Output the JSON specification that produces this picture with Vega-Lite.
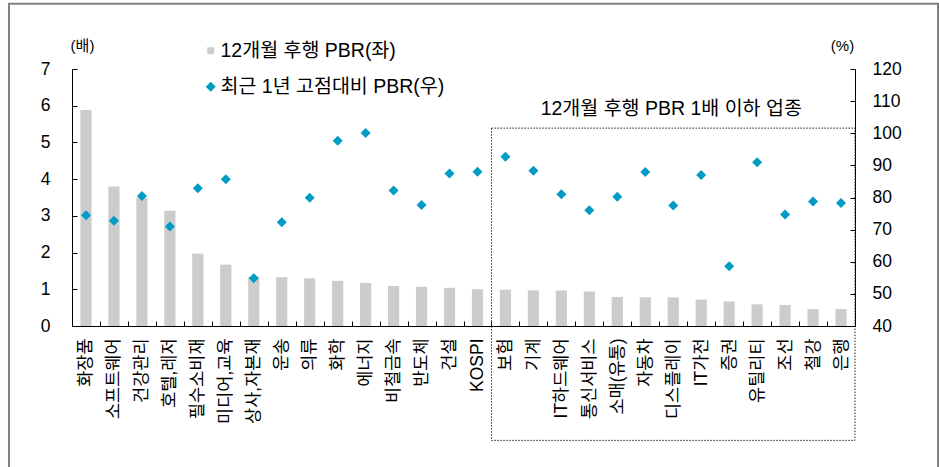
{
  "$schema": "https://vega.github.io/schema/vega-lite/v6.json",
  "width": 783,
  "height": 257,
  "autosize": {"type": "none"},
  "padding": {"left": 72, "top": 69, "right": 84, "bottom": 141},
  "background": "white",
  "config": {
    "view": {"stroke": null},
    "font": "Liberation Sans, Noto Sans CJK KR",
    "axis": {"domainColor": "black", "tickColor": "black", "labelColor": "black", "titleColor": "black", "grid": false, "titleFontWeight": "normal", "labelOverlap": false}
  },
  "datasets": {
    "main": [
      {"cat": "화장품", "pbr": 5.88, "peak": 74.5},
      {"cat": "소프트웨어", "pbr": 3.80, "peak": 72.8},
      {"cat": "건강관리", "pbr": 3.49, "peak": 80.5},
      {"cat": "호텔,레저", "pbr": 3.14, "peak": 71.0},
      {"cat": "필수소비재", "pbr": 1.97, "peak": 82.9},
      {"cat": "미디어,교육", "pbr": 1.67, "peak": 85.7},
      {"cat": "상사,자본재", "pbr": 1.34, "peak": 54.9},
      {"cat": "운송", "pbr": 1.33, "peak": 72.3},
      {"cat": "의류", "pbr": 1.30, "peak": 79.9},
      {"cat": "화학", "pbr": 1.23, "peak": 97.7},
      {"cat": "에너지", "pbr": 1.17, "peak": 100.1},
      {"cat": "비철금속", "pbr": 1.09, "peak": 82.2},
      {"cat": "반도체", "pbr": 1.07, "peak": 77.7},
      {"cat": "건설", "pbr": 1.04, "peak": 87.5},
      {"cat": "KOSPI", "pbr": 1.00, "peak": 88.0},
      {"cat": "보험", "pbr": 0.99, "peak": 92.7},
      {"cat": "기계", "pbr": 0.97, "peak": 88.3},
      {"cat": "IT하드웨어", "pbr": 0.97, "peak": 81.0},
      {"cat": "통신서비스", "pbr": 0.94, "peak": 76.0},
      {"cat": "소매(유통)", "pbr": 0.79, "peak": 80.2},
      {"cat": "자동차", "pbr": 0.78, "peak": 87.9},
      {"cat": "디스플레이", "pbr": 0.78, "peak": 77.5},
      {"cat": "IT가전", "pbr": 0.72, "peak": 87.0},
      {"cat": "증권", "pbr": 0.67, "peak": 58.6},
      {"cat": "유틸리티", "pbr": 0.59, "peak": 91.0},
      {"cat": "조선", "pbr": 0.57, "peak": 74.7},
      {"cat": "철강", "pbr": 0.46, "peak": 78.75},
      {"cat": "은행", "pbr": 0.46, "peak": 78.3}
    ]
  },
  "layer": [
    {
      "layer": [
        {
          "data": {"name": "main"},
          "mark": {"type": "bar", "width": {"band": 0.4}},
          "encoding": {
            "x": {
              "field": "cat", "type": "nominal", "sort": null,
              "scale": {"domain": ["화장품","소프트웨어","건강관리","호텔,레저","필수소비재","미디어,교육","상사,자본재","운송","의류","화학","에너지","비철금속","반도체","건설","KOSPI","보험","기계","IT하드웨어","통신서비스","소매(유통)","자동차","디스플레이","IT가전","증권","유틸리티","조선","철강","은행"], "paddingInner": 0, "paddingOuter": 0},
              "axis": {"title": null, "labelAngle": -90, "labelFontSize": 17.5, "tickBand": "extent", "tickSize": -5, "labelPadding": 17, "labelLimit": 0}
            },
            "y": {
              "field": "pbr", "type": "quantitative",
              "scale": {"domain": [0, 7], "nice": false},
              "axis": {"title": "(배)", "titleAngle": 0, "titleX": 10, "titleY": -24, "titleAlign": "center", "titleBaseline": "middle", "titleFontSize": 15, "values": [0,1,2,3,4,5,6,7], "tickSize": -5, "labelPadding": 27, "labelFontSize": 17.5, "labelOverlap": false}
            },
            "color": {
              "datum": "12개월 후행 PBR(좌)", "type": "nominal",
              "scale": {"domain": ["12개월 후행 PBR(좌)", "최근 1년 고점대비 PBR(우)"], "range": ["#cccccc", "#009cc6"]},
              "legend": {
                "title": null, "orient": "none", "legendX": 129, "legendY": -28, "direction": "vertical",
                "labelFontSize": 19.5, "labelColor": "black", "rowPadding": 15, "labelOffset": 0, "padding": 0, "labelLimit": 0,
                "symbolStrokeWidth": 0,
                "encode": {"symbols": {"update": {
                  "shape": {"signal": "datum.value === '12개월 후행 PBR(좌)' ? 'square' : 'diamond'"},
                  "size": {"signal": "datum.value === '12개월 후행 PBR(좌)' ? 49 : 100"},
                  "opacity": {"value": 1}
                }}}
              }
            }
          }
        },
        {
          "layer": [
            {
              "data": {"name": "main"},
              "mark": {"type": "point", "shape": "diamond", "filled": true, "size": 100, "opacity": 1},
              "encoding": {
                "x": {"field": "cat", "type": "nominal", "sort": null},
                "y": {
                  "field": "peak", "type": "quantitative", "title": "(%)",
                  "scale": {"domain": [40, 120], "nice": false, "zero": false},
                  "axis": {"orient": "right", "title": "(%)", "titleAngle": 0, "titleX": -13, "titleY": -24, "titleAlign": "center", "titleBaseline": "middle", "titleFontSize": 15, "values": [40,50,60,70,80,90,100,110,120], "tickSize": -5, "labelPadding": 22, "labelFontSize": 17.5, "labelOverlap": false}
                },
                "color": {"datum": "최근 1년 고점대비 PBR(우)", "type": "nominal"}
              }
            },
            {
              "data": {"values": [{"start": "보험", "end": "은행", "top": 101.6, "bottom": 4.4}]},
              "mark": {"type": "rect", "fill": "transparent", "stroke": "#222222", "strokeDash": [1.5, 1.5], "strokeWidth": 1, "clip": false},
              "encoding": {
                "x": {"field": "start", "type": "nominal", "bandPosition": 0},
                "x2": {"field": "end", "bandPosition": 1},
                "y": {"field": "top", "type": "quantitative", "title": "(%)", "scale": {"domain": [40, 120], "nice": false, "zero": false},
                  "axis": {"orient": "right", "title": "(%)", "titleAngle": 0, "titleX": -13, "titleY": -24, "titleAlign": "center", "titleBaseline": "middle", "titleFontSize": 15, "values": [40,50,60,70,80,90,100,110,120], "tickSize": -5, "labelPadding": 22, "labelFontSize": 17.5, "labelOverlap": false}},
                "y2": {"field": "bottom"}
              }
            },
            {
              "data": {"values": [{"x": "디스플레이", "y": 107.5, "label": "12개월 후행 PBR 1배 이하 업종"}]},
              "mark": {"type": "text", "fontSize": 19.5, "dx": -2, "baseline": "middle", "align": "center", "color": "black"},
              "encoding": {
                "x": {"field": "x", "type": "nominal"},
                "y": {"field": "y", "type": "quantitative", "title": "(%)", "scale": {"domain": [40, 120], "nice": false, "zero": false},
                  "axis": {"orient": "right", "title": "(%)", "titleAngle": 0, "titleX": -13, "titleY": -24, "titleAlign": "center", "titleBaseline": "middle", "titleFontSize": 15, "values": [40,50,60,70,80,90,100,110,120], "tickSize": -5, "labelPadding": 22, "labelFontSize": 17.5, "labelOverlap": false}},
                "text": {"field": "label"}
              }
            }
          ]
        }
      ],
      "resolve": {"scale": {"y": "independent"}}
    },
    {
      "data": {"values": [{"x0": -0.0805, "x1": 1.106, "y0": -0.585, "y1": 1.2539}]},
      "mark": {"type": "rect", "fill": "transparent", "stroke": "#808080", "strokeWidth": 2, "clip": false},
      "encoding": {
        "x": {"field": "x0", "type": "quantitative", "scale": {"domain": [0, 1], "nice": false, "zero": false}, "axis": null},
        "x2": {"field": "x1"},
        "y": {"field": "y0", "type": "quantitative", "scale": {"domain": [0, 1], "nice": false, "zero": false}, "axis": null},
        "y2": {"field": "y1"}
      }
    }
  ],
  "resolve": {"scale": {"x": "independent", "y": "independent"}}
}
